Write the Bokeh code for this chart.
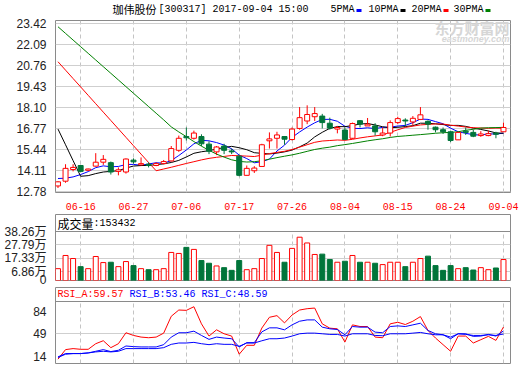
from bokeh.plotting import figure
from bokeh.layouts import column
from bokeh.models import ColumnDataSource, FixedTicker, Range1d, Span, Label, BoxAnnotation
from bokeh.embed import file_html
from bokeh.resources import INLINE

# ---------------- data ----------------
stock_name = "珈伟股份"
stock_info = "[300317] 2017-09-04 15:00"

dates = ["06-13", "06-14", "06-15", "06-16", "06-19", "06-20", "06-21", "06-22", "06-23", "06-26",
         "06-27", "06-28", "06-29", "06-30", "07-03", "07-04", "07-05", "07-06", "07-07", "07-10",
         "07-11", "07-12", "07-13", "07-14", "07-17", "07-18", "07-19", "07-20", "07-21", "07-24",
         "07-25", "07-26", "07-27", "07-28", "07-31", "08-01", "08-02", "08-03", "08-04", "08-07",
         "08-08", "08-09", "08-10", "08-11", "08-14", "08-15", "08-16", "08-17", "08-18", "08-21",
         "08-22", "08-23", "08-24", "08-25", "08-28", "08-29", "08-30", "08-31", "09-01", "09-04"]

tick_dates = ["06-16", "06-27", "07-06", "07-17", "07-26", "08-04", "08-15", "08-24", "09-04"]

opens = [13.15, 13.45, 14.19, 14.44, 14.14, 14.40, 14.65, 14.62, 14.07, 14.03,
         14.78, 14.48, 14.52, 14.44, 14.56, 14.73, 15.40, 16.27, 16.16, 16.27,
         15.79, 15.30, 15.67, 15.36, 15.03, 13.82, 14.11, 14.38, 16.00, 16.16,
         16.27, 16.08, 16.78, 17.25, 17.52, 17.56, 17.11, 16.74, 16.68, 16.16,
         17.27, 16.94, 16.94, 16.37, 16.49, 17.15, 17.31, 17.19, 17.35, 17.23,
         16.86, 16.70, 16.57, 16.06, 16.61, 16.53, 16.33, 16.33, 16.49, 16.57]
highs = [13.45, 14.52, 14.52, 14.48, 14.24, 15.22, 15.10, 14.69, 14.32, 14.89,
         14.89, 14.95, 14.64, 14.64, 14.79, 15.67, 16.33, 16.84, 16.64, 16.41,
         15.96, 15.67, 15.81, 15.51, 15.10, 14.44, 14.40, 15.81, 16.53, 16.57,
         16.27, 16.84, 18.13, 18.24, 18.13, 17.70, 17.46, 16.94, 16.84, 17.15,
         17.31, 17.44, 17.11, 16.84, 17.29, 17.52, 17.42, 17.56, 18.13, 17.29,
         16.90, 16.84, 16.64, 16.57, 16.84, 16.70, 16.61, 16.64, 16.57, 17.15]
lows = [13.02, 13.35, 14.07, 14.01, 14.10, 14.38, 14.48, 13.87, 13.82, 13.93,
        14.56, 14.44, 14.32, 14.40, 14.52, 14.69, 15.30, 16.02, 16.08, 15.67,
        15.16, 15.10, 15.16, 15.16, 13.76, 13.82, 13.97, 14.38, 15.51, 15.51,
        15.75, 16.02, 16.70, 17.05, 17.25, 16.78, 16.70, 16.47, 16.08, 16.12,
        16.84, 16.94, 16.33, 16.29, 16.27, 17.05, 16.94, 16.98, 17.31, 16.70,
        16.53, 16.43, 15.92, 16.06, 16.37, 16.23, 16.25, 16.29, 16.16, 16.57]
closes = [13.41, 14.26, 14.32, 14.07, 14.22, 14.65, 14.83, 14.03, 14.17, 14.85,
          14.67, 14.56, 14.44, 14.56, 14.69, 15.51, 16.16, 16.19, 16.49, 15.81,
          15.34, 15.61, 15.40, 15.30, 13.82, 14.26, 14.28, 15.75, 16.12, 16.37,
          16.10, 16.74, 17.46, 17.66, 17.72, 17.15, 16.80, 16.84, 16.08, 17.09,
          17.05, 17.05, 16.57, 16.49, 17.15, 17.40, 17.25, 17.42, 17.64, 17.05,
          16.70, 16.57, 16.02, 16.53, 16.53, 16.29, 16.43, 16.45, 16.41, 16.84]

# moving-average values before enough in-chart closes exist
ma5_head = [13.62, 13.64, 13.72, 13.87]
ma10_head = [16.74, 15.75, 14.75, 13.76, 13.80, 13.93, 14.03, 14.07, 14.11]
ma20_head = [20.99, 20.46, 19.93, 19.40, 18.87, 18.34, 17.81, 17.28, 16.75, 16.22,
             15.69, 15.16, 14.63, 14.11, 14.22, 14.33, 14.45, 14.57, 14.68]
ma30_head = [23.20, 22.78, 22.36, 21.94, 21.52, 21.10, 20.68, 20.26, 19.84, 19.42,
             19.00, 18.58, 18.16, 17.74, 17.32, 16.88, 16.56, 16.26, 15.95, 15.66,
             15.40, 15.16, 14.97, 14.80, 14.70, 14.66, 14.68, 14.74, 14.84]

# volume in 万
volumes = [9.24, 19.54, 17.16, 10.83, 9.24, 18.75, 13.99, 14.26, 10.83, 14.79,
           11.62, 9.24, 8.45, 8.45, 9.24, 21.91, 21.12, 25.87, 24.29, 15.58,
           13.47, 11.35, 10.03, 7.92, 15.58, 8.45, 9.24, 17.16, 27.46, 21.91,
           14.26, 25.08, 33.80, 29.31, 20.33, 20.59, 16.37, 14.26, 15.05, 19.54,
           14.26, 14.26, 13.47, 12.41, 14.26, 14.26, 10.83, 14.26, 17.16, 19.01,
           11.62, 7.92, 11.62, 9.24, 10.03, 8.18, 10.03, 8.45, 9.77, 16.37]
volume_last = "153432"

rsi_a = [9.1, 24.1, 25.7, 24.6, 24.6, 33.4, 38.1, 27.2, 33.4, 50.6,
         46.4, 43.8, 42.8, 43.8, 50.0, 76.5, 86.3, 85.8, 91.5, 64.6,
         45.4, 55.2, 49.0, 45.4, 16.9, 30.9, 30.9, 58.0, 74.9, 77.5,
         66.1, 78.5, 86.3, 88.4, 89.4, 64.6, 57.8, 56.8, 36.0, 63.0,
         60.4, 60.4, 43.8, 42.8, 64.6, 67.1, 63.5, 68.7, 76.0, 54.2,
         42.3, 31.9, 21.5, 45.4, 45.4, 34.5, 39.7, 44.9, 38.6, 59.57]
rsi_b = [11.7, 16.9, 17.9, 17.9, 18.9, 21.5, 24.1, 21.0, 23.1, 29.8,
         28.8, 28.3, 28.3, 28.3, 31.9, 43.8, 50.6, 50.6, 53.1, 46.4,
         40.2, 43.8, 42.3, 41.2, 28.3, 35.0, 35.0, 52.0, 58.3, 58.3,
         55.2, 63.0, 68.7, 70.8, 70.8, 59.4, 56.8, 55.7, 47.4, 60.4,
         59.4, 59.4, 51.6, 50.6, 60.4, 61.4, 60.4, 63.0, 65.6, 54.2,
         49.0, 47.4, 41.2, 49.0, 49.0, 44.9, 45.4, 48.0, 45.4, 53.46]
rsi_c = [12.7, 17.9, 17.9, 17.9, 18.9, 20.5, 21.5, 20.5, 21.5, 25.7,
         25.7, 25.7, 25.7, 25.7, 27.2, 32.4, 34.5, 34.5, 35.5, 33.4,
         31.9, 33.4, 32.4, 32.4, 29.3, 34.5, 34.5, 38.0, 41.2, 41.2,
         42.3, 45.4, 49.0, 50.0, 50.0, 49.0, 48.0, 48.0, 45.4, 49.0,
         49.0, 49.0, 46.4, 45.9, 49.0, 49.0, 49.0, 50.0, 51.1, 49.0,
         47.4, 47.4, 43.8, 49.0, 48.0, 46.4, 46.4, 47.4, 46.4, 48.59]

price_ticks = [12.78, 14.11, 15.44, 16.77, 18.10, 19.43, 20.76, 22.09, 23.42]
volume_ticks = [0, 6.86, 17.33, 27.79, 38.26]
rsi_ticks = [14, 49, 84]

ma_names = ["5PMA", "10PMA", "20PMA", "30PMA"]
ma_colors = ["#0000ff", "#000000", "#ff0000", "#008000"]
rsi_names = ["RSI_A", "RSI_B", "RSI_C"]
rsi_colors = ["#ff0000", "#0000ff", "#0000ff"]

# ---------------- derived ----------------
n = len(dates)
idx = list(range(n))


def moving_average(values, k, head):
    out = list(head)
    for i in range(len(head), len(values)):
        out.append(sum(values[i - k + 1:i + 1]) / k)
    return out


mas = [moving_average(closes, 5, ma5_head), moving_average(closes, 10, ma10_head),
       moving_average(closes, 20, ma20_head), moving_average(closes, 30, ma30_head)]

UP = "#ff0000"
DOWN = "#00753a"
FRAME = "#8a8a8a"
HGRID = "#cfcfcf"
VGRID = "#c4c4c4"
LABEL = "#222222"
MONO = "Liberation Mono"
CJK = "Noto Sans CJK SC"
SANS = "Liberation Sans, Noto Sans CJK SC"
W = 520
F_LEFT = 55
F_RIGHT = 510

is_up = [c >= o for o, c in zip(opens, closes)]
line_col = [UP if u else DOWN for u in is_up]
fill_col = ["white" if u else DOWN for u in is_up]

src = ColumnDataSource(dict(
    x=idx, o=opens, h=highs, l=lows, c=closes,
    top=[max(o, c) for o, c in zip(opens, closes)],
    bottom=[min(o, c) for o, c in zip(opens, closes)],
    vol=volumes, lc=line_col, fc=fill_col))

tick_pos = [dates.index(d) for d in tick_dates]
xr = Range1d(-0.33, 59.93)


def make_fig(height, yr, top, bottom, x_axis):
    p = figure(width=W, height=height, x_range=xr, y_range=yr,
               output_backend="svg", toolbar_location=None, tools="",
               min_border_left=F_LEFT, min_border_right=W - F_RIGHT,
               min_border_top=top, min_border_bottom=bottom,
               x_axis_location="below" if x_axis else None)
    p.outline_line_color = FRAME
    p.outline_line_width = 1
    p.background_fill_color = "white"
    p.border_fill_color = "white"
    p.xgrid.ticker = FixedTicker(ticks=tick_pos)
    p.xgrid.grid_line_color = VGRID
    p.xgrid.grid_line_dash = "4 3"
    p.ygrid.grid_line_color = HGRID
    for ax in p.yaxis:
        ax.axis_line_color = None
        ax.major_tick_line_color = None
        ax.minor_tick_line_color = None
        ax.major_label_standoff = 3
        ax.major_label_text_font = SANS
        ax.major_label_text_font_size = "12px"
        ax.major_label_text_color = LABEL
    return p


def lab(p, left, bottom, page_x, page_y, text, font, size, color, align="left", style="normal"):
    p.add_layout(Label(x=page_x - left, y=bottom - page_y, x_units="screen", y_units="screen",
                       text=text, text_font=font, text_font_size=size, text_color=color,
                       text_align=align, text_baseline="middle", text_font_style=style))


# ---------------- header strip (title + legend) ----------------
H0 = 16
p0 = figure(width=W, height=H0, x_range=Range1d(0, 1), y_range=Range1d(0, 1),
            output_backend="svg", toolbar_location=None, tools="", min_border=0,
            x_axis_location=None, y_axis_location=None)
p0.outline_line_color = None
p0.grid.visible = False
p0.background_fill_color = "white"
p0.border_fill_color = "white"
lab(p0, 0, H0, 57, 8, stock_name, CJK, "11px", "#000000")
lab(p0, 0, H0, 103, 8.5, stock_info, MONO, "10px", "#000000")
legend_x = [275, 313, 356, 398]
for name, col, lx in zip(ma_names, ma_colors, legend_x):
    lab(p0, 0, H0, lx, 9, name, MONO, "10px", "#000000")
    mx = lx + 6 * len(name) + 2
    p0.add_layout(BoxAnnotation(left=mx, right=mx + 5, top=H0 - 8.5, bottom=H0 - 11.5,
                                left_units="screen", right_units="screen",
                                top_units="screen", bottom_units="screen",
                                fill_color=col, fill_alpha=1.0, line_color=None))

# ---------------- main price panel ----------------
# canvas page y 16..212, frame 20..195
p1 = make_fig(196, Range1d(12.7366, 23.5937), 4, 17, True)
p1.yaxis.ticker = FixedTicker(ticks=price_ticks)
p1.yaxis.major_label_overrides = {v: f"{v:.2f}" for v in price_ticks}
p1.ygrid.ticker = FixedTicker(ticks=price_ticks)
xa = p1.xaxis[0]
xa.ticker = FixedTicker(ticks=tick_pos)
xa.major_label_overrides = {i: dates[i] for i in tick_pos}
xa.axis_line_color = None
xa.major_tick_line_color = None
xa.minor_tick_line_color = None
xa.major_label_standoff = 4
xa.major_label_text_font = MONO
xa.major_label_text_font_size = "10px"
xa.major_label_text_color = "#ff0000"

for ma, col in zip(mas, ma_colors):
    p1.line(idx, ma, line_color=col, line_width=1)

p1.segment(x0="x", y0="l", x1="x", y1="h", line_color="lc", line_width=1, source=src)
p1.vbar(x="x", width=0.66, top="top", bottom="bottom", fill_color="fc", line_color="lc",
        line_width=1, source=src)

F1_BOTTOM = 195
lab(p1, F_LEFT, F1_BOTTOM, 509, 30, "东方财富网", CJK, "15px", "#d6d6d6", align="right", style="bold")
lab(p1, F_LEFT, F1_BOTTOM, 509, 41, "eastmoney.com", "Liberation Sans", "9px", "#d6d6d6",
    align="right", style="bold italic")

# ---------------- volume panel ----------------
# canvas page y 212..286, frame 214..280 (header 214..231)
vol_top = volume_ticks[-1]
p2 = make_fig(74, Range1d(0, vol_top + 17 * vol_top / 49), 2, 6, False)
p2.yaxis.ticker = FixedTicker(ticks=volume_ticks)
p2.yaxis.major_label_overrides = {v: ("0" if v == 0 else f"{v:.2f}万") for v in volume_ticks}
p2.ygrid.ticker = FixedTicker(ticks=volume_ticks[1:-1])
p2.xgrid.cross_bounds = (0, vol_top)
p2.vbar(x="x", width=0.66, top="vol", bottom=0, fill_color="fc", line_color="lc",
        line_width=1, source=src)
p2.add_layout(Span(location=vol_top, dimension="width", line_color=FRAME, line_width=1))
F2_BOTTOM = 280
lab(p2, F_LEFT, F2_BOTTOM, 57, 223, "成交量", CJK, "12px", "#000000")
lab(p2, F_LEFT, F2_BOTTOM, 93, 223, ":" + volume_last, MONO, "10px", "#000000")

# ---------------- RSI panel ----------------
# canvas page y 286..365, frame 287..363 (header 287..301)
rsi_lo, rsi_hi = 2.3, 99.7
p3 = make_fig(79, Range1d(rsi_lo, rsi_hi + 14 * (rsi_hi - rsi_lo) / 62), 1, 2, False)
p3.yaxis.ticker = FixedTicker(ticks=rsi_ticks)
p3.ygrid.ticker = FixedTicker(ticks=[49])
p3.xgrid.cross_bounds = (rsi_lo, rsi_hi)
for vals, col in zip([rsi_a, rsi_b, rsi_c], rsi_colors):
    p3.line(idx, vals, line_color=col, line_width=1)
p3.add_layout(Span(location=rsi_hi, dimension="width", line_color=FRAME, line_width=1))
F3_BOTTOM = 363
hx = 57
for name, vals, col in zip(rsi_names, [rsi_a, rsi_b, rsi_c], rsi_colors):
    txt = f"{name}:{vals[-1]:.2f}"
    lab(p3, F_LEFT, F3_BOTTOM, hx, 294, txt, MONO, "10px", col)
    hx += 6 * (len(txt) + 1)

layout = column(p0, p1, p2, p3, spacing=0)
open("out.html", "w").write(file_html(layout, INLINE))
